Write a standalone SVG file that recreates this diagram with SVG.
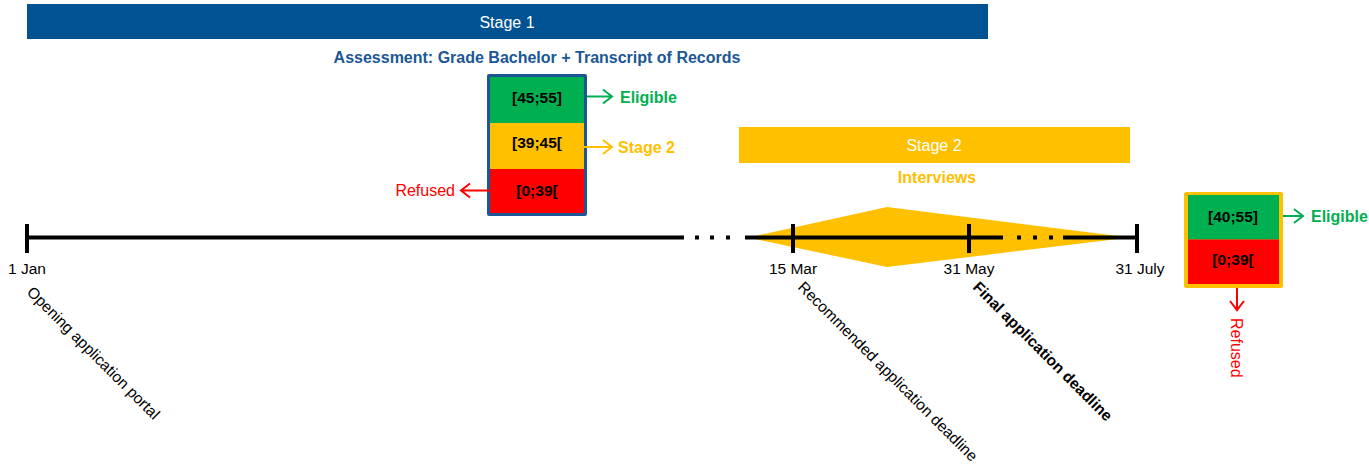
<svg xmlns="http://www.w3.org/2000/svg" width="1369" height="470" viewBox="0 0 1369 470">
<defs>
<style>
text{font-family:"Liberation Sans",Arial,sans-serif;}
.bar{font-size:16px;fill:#fff;text-anchor:middle;dominant-baseline:central;}
.val{font-size:15.5px;font-weight:bold;fill:#000;text-anchor:middle;dominant-baseline:central;}
.date{font-size:15.5px;fill:#000;text-anchor:middle;}
.rot{font-size:15.5px;fill:#000;}
.lbl{font-size:16px;}
.tl{stroke:#000;stroke-width:4;fill:none;}
.dot{fill:#000;}
.g{fill:#00B050;}.y{fill:#FFC000;}.r{fill:#FF0000;}
.arrG{stroke:#00B050;stroke-width:2;fill:none;}
.arrY{stroke:#FFC000;stroke-width:2;fill:none;}
.arrR{stroke:#FF0000;stroke-width:2;fill:none;}
</style>
</defs>
<rect width="1369" height="470" fill="#fff"/>

<g id="stage1">
<rect x="27" y="4" width="961" height="35" fill="#005293"/>
<text class="bar" x="507" y="22">Stage 1</text>
<text x="537" y="63" font-size="16" font-weight="bold" fill="#1B5796" text-anchor="middle">Assessment: Grade Bachelor + Transcript of Records</text>
</g>

<g id="box1">
<rect x="487" y="74" width="100" height="142" fill="#1B5796" rx="2"/>
<rect x="490" y="77" width="94" height="46" class="g"/>
<rect x="490" y="123" width="94" height="46" class="y"/>
<rect x="490" y="169" width="94" height="44" class="r"/>
<text class="val" x="537" y="97">[45;55]</text>
<text class="val" x="537" y="142">[39;45[</text>
<text class="val" x="537" y="190">[0;39[</text>
</g>

<g id="stage2">
<rect x="739" y="127" width="391" height="36" fill="#FFC000"/>
<text class="bar" x="934" y="145">Stage 2</text>
<text x="937" y="183" font-size="16" font-weight="bold" fill="#FFC000" text-anchor="middle">Interviews</text>
</g>

<g id="diamond">
<polygon points="748,237.5 887,207 1130,237.5 887,267" fill="#FFC000"/>
</g>

<g id="timeline">
<line class="tl" x1="27" y1="237.5" x2="684" y2="237.5"/>
<rect class="dot" x="695" y="235.5" width="4" height="4"/>
<rect class="dot" x="710" y="235.5" width="4" height="4"/>
<rect class="dot" x="726" y="235.5" width="4" height="4"/>
<line class="tl" x1="745" y1="237.5" x2="1003" y2="237.5"/>
<rect class="dot" x="1017" y="235.5" width="4" height="4"/>
<rect class="dot" x="1033" y="235.5" width="4" height="4"/>
<rect class="dot" x="1049" y="235.5" width="4" height="4"/>
<line class="tl" x1="1063" y1="237.5" x2="1137" y2="237.5"/>
<line class="tl" x1="27" y1="224" x2="27" y2="253"/>
<line class="tl" x1="793" y1="224" x2="793" y2="253"/>
<line class="tl" x1="969" y1="224" x2="969" y2="253"/>
<line class="tl" x1="1137" y1="224" x2="1137" y2="253"/>
<text class="date" x="27" y="274">1 Jan</text>
<text class="date" x="793" y="274">15 Mar</text>
<text class="date" x="969" y="274">31 May</text>
<text class="date" x="1140" y="274">31 July</text>
<text class="rot" transform="translate(26,293) rotate(45)">Opening application portal</text>
<text class="rot" transform="translate(797,288) rotate(45)">Recommended application deadline</text>
<text class="rot" font-weight="bold" transform="translate(972,288) rotate(45)">Final application deadline</text>
</g>

<g id="box2">
<rect x="1184" y="192" width="99" height="96" fill="#FFC000" rx="2"/>
<rect x="1188" y="195" width="91" height="44.5" class="g"/>
<rect x="1188" y="239.5" width="91" height="44.5" class="r"/>
<text class="val" x="1233" y="216">[40;55]</text>
<text class="val" x="1233" y="259">[0;39[</text>
</g>

<g id="connectors">
<path class="arrG" d="M587,96.5 H612 M603,89.5 L612,96.5 L603,103.5"/>
<path class="arrY" d="M584,147 H612 M603,140 L612,147 L603,154"/>
<path class="arrR" d="M490,190.5 H461 M470,183.5 L461,190.5 L470,197.5"/>
<path class="arrG" d="M1283,216 H1303 M1294,209 L1303,216 L1294,223"/>
<path class="arrR" d="M1237,288 V310 M1230,301 L1237,310 L1244,301"/>
</g>

<g id="labels">
<text class="lbl" x="620" y="103" font-weight="bold" fill="#00B050">Eligible</text>
<text class="lbl" x="618" y="153" font-weight="bold" fill="#FFC000">Stage 2</text>
<text class="lbl" x="455" y="196" fill="#FF0000" text-anchor="end">Refused</text>
<text class="lbl" x="1311" y="222" font-weight="bold" fill="#00B050">Eligible</text>
<text class="lbl" x="1231" y="318" fill="#FF0000" transform="rotate(90,1231,318)">Refused</text>
</g>
</svg>
